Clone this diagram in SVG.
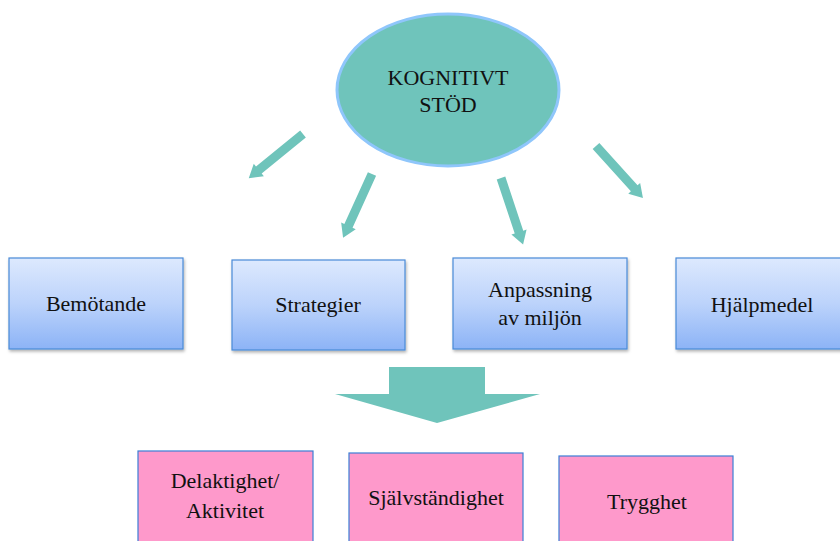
<svg xmlns="http://www.w3.org/2000/svg" width="840" height="541" viewBox="0 0 840 541">
  <defs>
    <linearGradient id="blueGrad" x1="0" y1="0" x2="0" y2="1">
      <stop offset="0" stop-color="#dde9fe"/>
      <stop offset="0.5" stop-color="#bcd3fb"/>
      <stop offset="1" stop-color="#8cb3f6"/>
    </linearGradient>
    <filter id="shadow" x="-10%" y="-10%" width="125%" height="130%">
      <feDropShadow dx="1" dy="2" stdDeviation="1.5" flood-color="#000" flood-opacity="0.3"/>
    </filter>
    <path id="smallArrow" d="M0,-4.5 L57,-4.5 L57,-8 L70,0 L57,8 L57,4.5 L0,4.5 Z"/>
  </defs>
  <style>
    .txt { font-family: "Liberation Serif", "Times New Roman", serif; font-size: 22px; fill: #111; text-anchor: middle; }
    .blue { fill: url(#blueGrad); stroke: #4a8ad8; stroke-width: 1.2; filter: url(#shadow); }
    .pink { fill: #fe99cb; stroke: #3b7fd6; stroke-width: 1.2; }
    .teal { fill: #6fc4bb; }
  </style>
  <rect width="840" height="541" fill="#ffffff"/>

  <g id="kognitivt-stod">
    <ellipse cx="448" cy="90" rx="111" ry="76" fill="#6fc4bb" stroke="#8fc6fb" stroke-width="3"/>
    <text class="txt" x="448" y="85" font-size="23">KOGNITIVT</text>
    <text class="txt" x="448" y="112" font-size="23">STÖD</text>
  </g>

  <g id="connectors">
    <use href="#smallArrow" class="teal" transform="translate(303,134) rotate(140.8)"/>
    <use href="#smallArrow" class="teal" transform="translate(372,174) rotate(114.4)"/>
    <use href="#smallArrow" class="teal" transform="translate(501,178) rotate(71.6)"/>
    <use href="#smallArrow" class="teal" transform="translate(596,146) rotate(47.9)"/>
    <path class="teal" d="M389,367 L485,367 L485,394 L540,394 L437,423 L335,394 L389,394 Z"/>
  </g>

  <g id="bemotande">
    <rect class="blue" x="9" y="258" width="174" height="91"/>
    <text class="txt" x="96" y="311">Bemötande</text>
  </g>
  <g id="strategier">
    <rect class="blue" x="232" y="260" width="173" height="90"/>
    <text class="txt" x="318" y="312">Strategier</text>
  </g>
  <g id="anpassning">
    <rect class="blue" x="453" y="258" width="174" height="91"/>
    <text class="txt" x="540" y="297">Anpassning</text>
    <text class="txt" x="540" y="325">av miljön</text>
  </g>
  <g id="hjalpmedel">
    <rect class="blue" x="676" y="258" width="174" height="91"/>
    <text class="txt" x="762" y="312">Hjälpmedel</text>
  </g>

  <g id="delaktighet">
    <rect class="pink" x="138" y="451" width="175" height="100"/>
    <text class="txt" x="225" y="488">Delaktighet/</text>
    <text class="txt" x="225" y="518">Aktivitet</text>
  </g>
  <g id="sjalvstandighet">
    <rect class="pink" x="349" y="453" width="174" height="100"/>
    <text class="txt" x="436" y="505">Självständighet</text>
  </g>
  <g id="trygghet">
    <rect class="pink" x="559" y="456" width="174" height="100"/>
    <text class="txt" x="647" y="509">Trygghet</text>
  </g>
</svg>
